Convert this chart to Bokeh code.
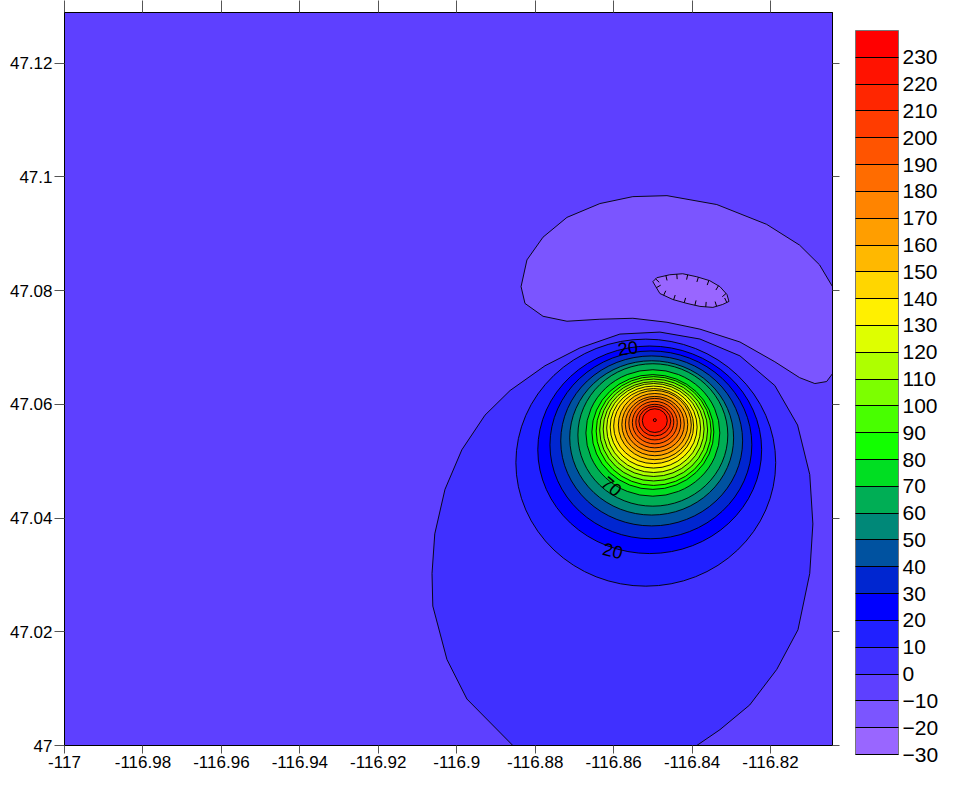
import numpy as np
from bokeh.plotting import figure
from bokeh.models import (ColumnDataSource, LinearAxis, FixedTicker, Range1d,
                          LinearColorMapper, ColorBar, PrintfTickFormatter)
from bokeh.embed import file_html
from bokeh.resources import INLINE
from bokeh.core.properties import value

# ---------------- axes ----------------
x_min, x_max = -117.0, -116.8042
y_min, y_max = 47.0, 47.1289
x_ticks = [-117, -116.98, -116.96, -116.94, -116.92, -116.9, -116.88, -116.86, -116.84, -116.82]
x_tick_labels = ["-117", "-116.98", "-116.96", "-116.94", "-116.92", "-116.9", "-116.88", "-116.86", "-116.84", "-116.82"]
y_ticks = [47, 47.02, 47.04, 47.06, 47.08, 47.1, 47.12]
y_tick_labels = ["47", "47.02", "47.04", "47.06", "47.08", "47.1", "47.12"]

# ---------------- contour levels / colours ----------------
levels = [-30, -20, -10, 0, 10, 20, 30, 40, 50, 60, 70, 80, 90, 100, 110, 120,
          130, 140, 150, 160, 170, 180, 190, 200, 210, 220, 230]
level_colors = ["#9966FF", "#7B55FF", "#5E40FF", "#4030FF", "#2020FF", "#0000FF",
                "#0026D0", "#0052A0", "#008878", "#00AE55", "#00DE22", "#12FF00",
                "#48FF00", "#7CFF00", "#AEFF00", "#DEFF00", "#FFF000", "#FFD600",
                "#FFB800", "#FF9E00", "#FF8400", "#FF6C00", "#FF5400", "#FF3C00",
                "#FF2600", "#FF1200", "#FF0000"]
background_level = -10

# closed rings around the peak (contour level, centre, full width/height in degrees)
ring_levels = [10, 20, 30, 40, 50, 60, 70, 80, 90, 100, 110, 120, 130, 140, 150,
               160, 170, 180, 190, 200, 210, 220, 230]
ring_lon = [-116.8518, -116.8508, -116.8505, -116.8503, -116.8503, -116.8500, -116.8500,
            -116.8500, -116.8498, -116.8498, -116.8498, -116.8498, -116.8498, -116.8498,
            -116.8495, -116.8495, -116.8495, -116.8495, -116.8495, -116.8495, -116.8495,
            -116.8495, -116.8495]
ring_lat = [47.04974, 47.05200, 47.05287, 47.05356, 47.05409, 47.05461, 47.05496,
            47.05513, 47.05530, 47.05548, 47.05565, 47.05583, 47.05600, 47.05617,
            47.05635, 47.05643, 47.05652, 47.05669, 47.05678, 47.05687, 47.05704,
            47.05713, 47.05722]
ring_width = [0.066243, 0.057071, 0.051466, 0.046370, 0.041784, 0.038217, 0.034141,
              0.031083, 0.029300, 0.027516, 0.025733, 0.023949, 0.022166, 0.020382,
              0.018599, 0.016815, 0.015032, 0.013249, 0.011465, 0.009682, 0.008153,
              0.006370, 0.000764]
ring_height = [0.043479, 0.036522, 0.033044, 0.029913, 0.027131, 0.025044, 0.022261,
               0.020174, 0.019131, 0.017913, 0.016696, 0.015652, 0.014435, 0.013218,
               0.012174, 0.010957, 0.009739, 0.008696, 0.007478, 0.006261, 0.005217,
               0.004174, 0.000522]

# 0 contour (large egg-shaped area, runs off the bottom edge)
zero_lon = [-116.8857, -116.8974, -116.9025, -116.9061, -116.9063, -116.9056, -116.9030,
            -116.8987, -116.8928, -116.8864, -116.8775, -116.8686, -116.8584, -116.8482,
            -116.8380, -116.8278, -116.8189, -116.8131, -116.8100, -116.8092, -116.8100,
            -116.8130, -116.8184, -116.8253, -116.8329, -116.8388, -116.8370, -116.8870]
zero_lat = [47.0000, 47.00817, 47.01513, 47.02452, 47.03026, 47.03722, 47.04504,
            47.05200, 47.05809, 47.06243, 47.06678, 47.06991, 47.07235, 47.07270,
            47.07148, 47.06852, 47.06330, 47.05635, 47.04765, 47.03896, 47.03026,
            47.02035, 47.01339, 47.00713, 47.00278, 47.0000, 46.9950, 46.9950]

# -10 contour (crescent lobe, runs off the right edge)
lobe_lon = [-116.8042, -116.8075, -116.8126, -116.8210, -116.8337, -116.8464, -116.8551,
            -116.8635, -116.8719, -116.8780, -116.8821, -116.8836, -116.8826, -116.8780,
            -116.8719, -116.8635, -116.8551, -116.8464, -116.8380, -116.8278, -116.8189,
            -116.8126, -116.8087, -116.8057, -116.8042, -116.8000, -116.8000]
lobe_lat = [47.08069, 47.08452, 47.08800, 47.09165, 47.09513, 47.09669, 47.09652,
            47.09530, 47.09287, 47.08939, 47.08539, 47.08069, 47.07774, 47.07548,
            47.07461, 47.07496, 47.07513, 47.07443, 47.07322, 47.07096, 47.06748,
            47.06469, 47.06365, 47.06400, 47.06539, 47.06539, 47.08069]

# -20 contour (small closed depression, hachured)
low_lon = [-116.8500, -116.8490, -116.8457, -116.8424, -116.8388, -116.8355, -116.8329,
           -116.8311, -116.8306, -116.8322, -116.8347, -116.8380, -116.8413, -116.8449,
           -116.8482]
low_lat = [47.08156, 47.08226, 47.08278, 47.08296, 47.08243, 47.08174, 47.08069,
           47.07930, 47.07809, 47.07756, 47.07704, 47.07722, 47.07774, 47.07843,
           47.07948]

# contour labels
label_text = ["20", "70", "20"]
label_lon = [-116.8564, -116.8605, -116.8602]
label_lat = [47.06991, 47.04557, 47.03426]
label_angle_deg = [8, -40, -14]


def level_color(lv):
    return level_colors[levels.index(lv)]


FONT = "Liberation Sans"

p = figure(width=941, height=770, x_range=Range1d(x_min, x_max), y_range=Range1d(y_min, y_max),
           output_backend="svg", toolbar_location=None,
           min_border_left=64, min_border_top=0, min_border_right=0, min_border_bottom=0)
p.background_fill_color = level_color(background_level)
p.border_fill_color = "white"
p.grid.visible = False
p.outline_line_color = "black"
p.outline_line_width = 1

# -10 lobe
p.patch(lobe_lon, lobe_lat, fill_color=level_color(-20), line_color="black", line_width=0.9)
# -20 depression
p.patch(low_lon, low_lat, fill_color=level_color(-30), line_color="black", line_width=0.9)
# 0 contour
p.patch(zero_lon, zero_lat, fill_color=level_color(0), line_color="black", line_width=0.9)

# rings
ring_src = ColumnDataSource(dict(x=ring_lon, y=ring_lat, w=ring_width, h=ring_height,
                                 c=[level_color(l) for l in ring_levels]))
p.ellipse(x="x", y="y", width="w", height="h", fill_color="c", line_color="black",
          line_width=0.9, source=ring_src)

# hachure ticks on the depression (pointing downhill, i.e. inward)
kx, ky = 3925.0, 5750.0
hx = np.array(low_lon + [low_lon[0]]) * kx
hy = np.array(low_lat + [low_lat[0]]) * ky
seg = np.hypot(np.diff(hx), np.diff(hy))
s = np.concatenate([[0.0], np.cumsum(seg)])
n_t = int(s[-1] // 10.5)
t = (np.arange(n_t) * s[-1] / n_t + 4.0) % s[-1]
tx, ty = np.interp(t, s, hx), np.interp(t, s, hy)
dx = np.interp(np.minimum(t + 1.5, s[-1]), s, hx) - np.interp(np.maximum(t - 1.5, 0), s, hx)
dy = np.interp(np.minimum(t + 1.5, s[-1]), s, hy) - np.interp(np.maximum(t - 1.5, 0), s, hy)
nrm = np.hypot(dx, dy)
dx, dy = dx / nrm, dy / nrm
area = 0.5 * np.sum(hx[:-1] * hy[1:] - hx[1:] * hy[:-1])
if area > 0:
    nx, ny = -dy, dx
else:
    nx, ny = dy, -dx
tick_len = 5.0
p.segment(x0=tx / kx, y0=ty / ky, x1=(tx + nx * tick_len) / kx, y1=(ty + ny * tick_len) / ky,
          line_color="black", line_width=1)

# contour labels
p.text(x=label_lon, y=label_lat, text=label_text, angle=[a * np.pi / 180 for a in label_angle_deg],
       text_font=value(FONT), text_font_size="18px", text_align="center",
       text_baseline="middle", text_color="black")

# axes
xa = p.xaxis[0]
xa.ticker = FixedTicker(ticks=x_ticks)
xa.formatter = PrintfTickFormatter(format="%g")
xa.major_label_overrides = dict(zip(x_ticks, x_tick_labels))
ya = p.yaxis[0]
ya.ticker = FixedTicker(ticks=y_ticks)
ya.formatter = PrintfTickFormatter(format="%g")
ya.major_label_overrides = dict(zip(y_ticks, y_tick_labels))
for ax, tout, stand in ((xa, 8, 2), (ya, 10, 2)):
    ax.minor_tick_line_color = None
    ax.major_tick_in = 0
    ax.major_tick_out = tout
    ax.major_label_standoff = stand
    ax.major_label_text_font = FONT
    ax.major_label_text_font_size = "17px"
    ax.major_label_text_color = "black"
    ax.axis_line_color = "black"
    ax.major_tick_line_color = "#555555"

top_ax = LinearAxis(ticker=FixedTicker(ticks=x_ticks), major_label_text_font_size="1px",
                    major_label_text_color=None,
                    major_label_standoff=0, major_tick_in=0, major_tick_out=12,
                    minor_tick_line_color=None, axis_line_color="black",
                    major_tick_line_color="#555555")
right_ax = LinearAxis(ticker=FixedTicker(ticks=y_ticks), major_label_text_font_size="1px",
                      major_label_text_color=None,
                      major_label_standoff=0, major_tick_in=0, major_tick_out=7,
                      minor_tick_line_color=None, axis_line_color="black",
                      major_tick_line_color="#555555")
p.add_layout(top_ax, "above")
p.add_layout(right_ax, "right")

# colour bar
mapper = LinearColorMapper(palette=level_colors, low=-30, high=240)
cb = ColorBar(color_mapper=mapper, ticker=FixedTicker(ticks=levels), width=43, height=724,
              padding=0, margin=0, location=(16, -9), label_standoff=4,
              major_label_text_font=FONT, major_label_text_font_size="21px",
              major_label_text_color="black",
              major_tick_in=43, major_tick_out=0, major_tick_line_color="black",
              major_tick_line_width=1, minor_tick_line_color=None,
              bar_line_color="#777777", bar_line_width=1,
              background_fill_color=None, border_line_color=None)
p.add_layout(cb, "right")

open("out.html", "w").write(file_html(p, INLINE))
